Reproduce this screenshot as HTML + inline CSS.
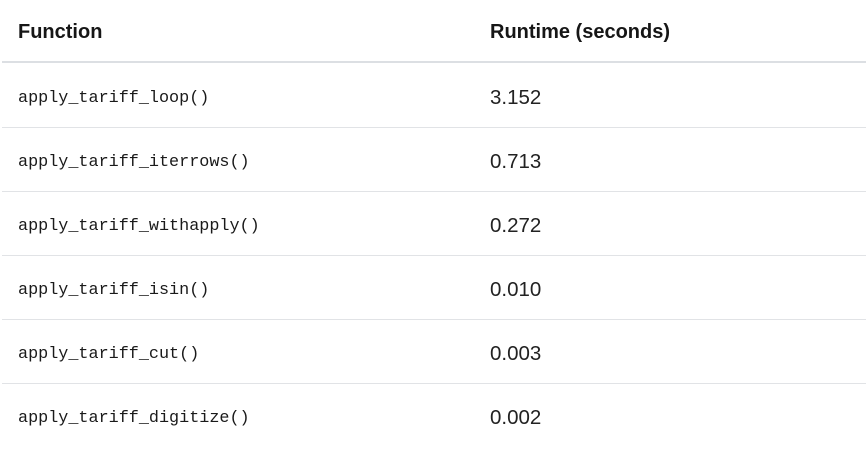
<!DOCTYPE html>
<html><head><meta charset="utf-8"><style>
body{margin:0;width:866px;height:440px;background:#fff;overflow:hidden;position:relative;font-family:"Liberation Sans",sans-serif;color:#1a1a1a}
.row{position:absolute;left:2px;width:864px;height:64px;border-bottom:1px solid #e1e3e6}
.h{top:0;height:61px;border-bottom:2px solid #dcdfe3}
.c1,.c2{position:absolute;top:3px;height:100%;display:flex;align-items:center}
.h .c1,.h .c2{top:2px}
.c1{left:16px}.c2{left:488px}
.h div{font-weight:bold;font-size:20px;color:#161616}
.m{font-family:"Liberation Mono","DejaVu Sans Mono",monospace;font-size:16.8px}
.n{font-size:20.5px;color:#222}
</style></head><body>
<div class="row h"><div class="c1">Function</div><div class="c2">Runtime (seconds)</div></div>
<div class="row" style="top:63px"><div class="c1 m">apply_tariff_loop()</div><div class="c2 n">3.152</div></div>
<div class="row" style="top:127px"><div class="c1 m">apply_tariff_iterrows()</div><div class="c2 n">0.713</div></div>
<div class="row" style="top:191px"><div class="c1 m">apply_tariff_withapply()</div><div class="c2 n">0.272</div></div>
<div class="row" style="top:255px"><div class="c1 m">apply_tariff_isin()</div><div class="c2 n">0.010</div></div>
<div class="row" style="top:319px"><div class="c1 m">apply_tariff_cut()</div><div class="c2 n">0.003</div></div>
<div class="row" style="top:383px;border-bottom:none"><div class="c1 m">apply_tariff_digitize()</div><div class="c2 n">0.002</div></div>
</body></html>
